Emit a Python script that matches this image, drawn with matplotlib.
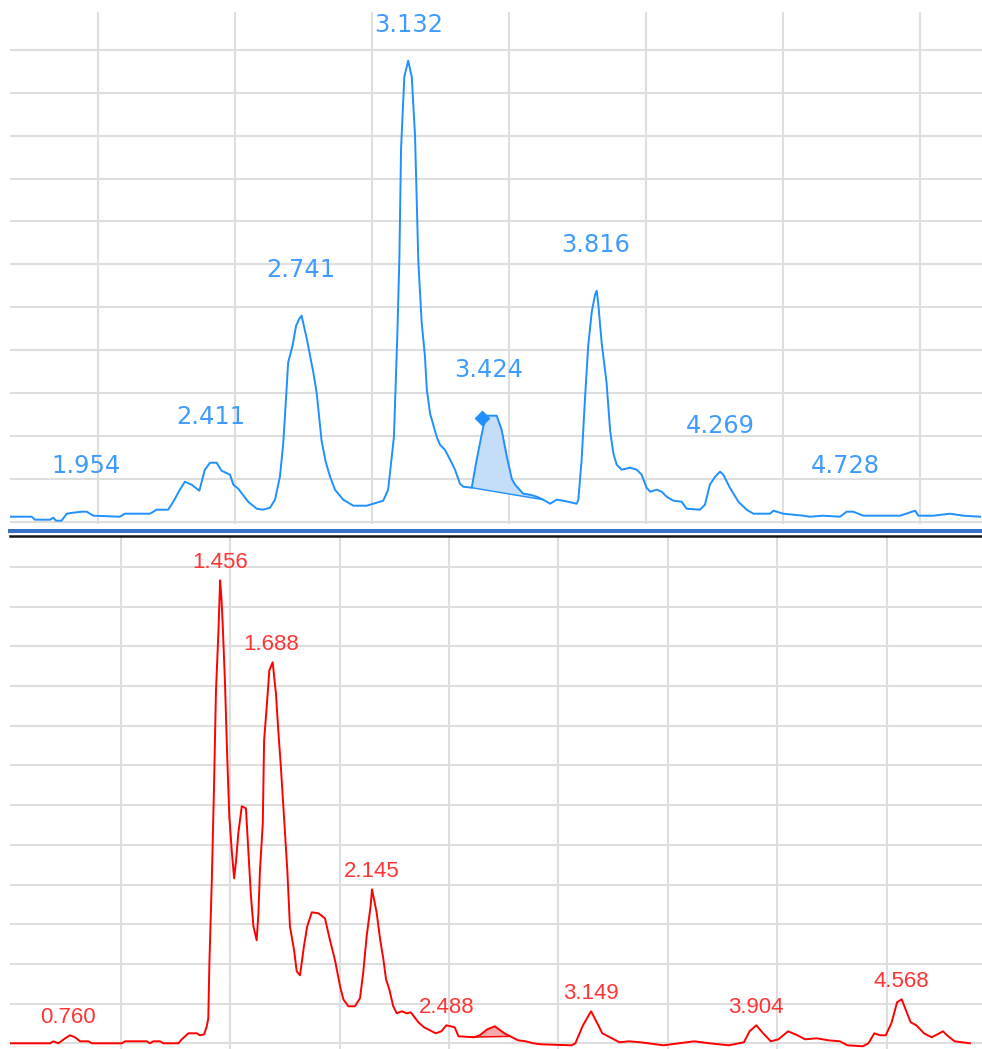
import numpy as np
from matplotlib import pyplot as plt
from matplotlib.lines import Line2D

# upper channel (blue): retention time [min], signal [counts]
top_time = [1.678, 1.757, 1.769, 1.824, 1.836, 1.846, 1.866, 1.885, 1.909, 1.939,
            1.958, 1.982, 2.079, 2.097, 2.152, 2.189, 2.213, 2.255, 2.274, 2.298,
            2.316, 2.341, 2.369, 2.389, 2.408, 2.432, 2.450, 2.481, 2.493, 2.511,
            2.547, 2.578, 2.602, 2.627, 2.645, 2.663, 2.675, 2.685, 2.693, 2.709,
            2.722, 2.734, 2.742, 2.761, 2.785, 2.797, 2.815, 2.830, 2.846, 2.864,
            2.894, 2.931, 2.980, 3.040, 3.058, 3.071, 3.079, 3.091, 3.099, 3.105,
            3.117, 3.131, 3.144, 3.156, 3.168, 3.180, 3.192, 3.199, 3.211, 3.235,
            3.247, 3.265, 3.284, 3.302, 3.320, 3.332, 3.363, 3.381, 3.405, 3.418,
            3.454, 3.472, 3.491, 3.509, 3.521, 3.551, 3.576, 3.600, 3.624, 3.649,
            3.673, 3.697, 3.746, 3.752, 3.764, 3.776, 3.788, 3.801, 3.813, 3.819,
            3.825, 3.837, 3.855, 3.868, 3.880, 3.892, 3.910, 3.941, 3.965, 3.983,
            4.001, 4.014, 4.038, 4.056, 4.074, 4.099, 4.129, 4.147, 4.196, 4.214,
            4.232, 4.251, 4.269, 4.281, 4.305, 4.336, 4.366, 4.391, 4.451, 4.464,
            4.500, 4.573, 4.597, 4.646, 4.707, 4.731, 4.755, 4.792, 4.926, 4.981,
            4.993, 5.047, 5.108, 5.157, 5.218]
top_signal = [5, 5, 2, 2, 4, 1, 1, 8, 9, 10,
              10, 6, 5, 8, 8, 8, 12, 12, 20, 32,
              40, 37, 31, 52, 59, 59, 51, 47, 37, 33,
              20, 13, 12, 14, 22, 45, 78, 122, 159, 176,
              196, 203, 206, 183, 149, 129, 81, 60, 45, 32,
              22, 16, 16, 21, 32, 65, 85, 183, 264, 373,
              445, 461, 445, 386, 261, 200, 166, 132, 108, 85,
              77, 72, 62, 52, 38, 35, 34, 62, 95, 106,
              106, 92, 65, 43, 37, 28, 27, 25, 22, 18,
              22, 21, 18, 22, 62, 122, 176, 210, 227, 231,
              217, 179, 139, 91, 68, 57, 52, 54, 52, 47,
              34, 30, 32, 30, 25, 21, 20, 13, 12, 17,
              37, 45, 50, 47, 34, 20, 12, 8, 8, 11,
              8, 6, 5, 6, 5, 10, 10, 6, 6, 11,
              6, 6, 8, 6, 5]
top_peaks = ['1.954', '2.411', '2.741', '3.132', '3.424', '3.816', '4.269', '4.728']
top_area = (3.363, 3.624)      # integrated peak (shaded)
top_apex = (3.400, 104)        # selected peak marker

# lower channel (red)
bot_time = [0.494, 0.677, 0.692, 0.715, 0.746, 0.768, 0.791, 0.814, 0.852, 0.868,
            1.005, 1.020, 1.119, 1.134, 1.149, 1.180, 1.195, 1.263, 1.279, 1.309,
            1.347, 1.362, 1.381, 1.393, 1.400, 1.405, 1.416, 1.426, 1.435, 1.446,
            1.454, 1.460, 1.466, 1.476, 1.487, 1.496, 1.507, 1.518, 1.527, 1.537,
            1.553, 1.572, 1.583, 1.594, 1.606, 1.621, 1.629, 1.636, 1.649, 1.655,
            1.667, 1.679, 1.694, 1.709, 1.720, 1.732, 1.751, 1.761, 1.773, 1.792,
            1.804, 1.819, 1.837, 1.852, 1.873, 1.903, 1.933, 1.956, 1.979, 2.002,
            2.017, 2.040, 2.070, 2.093, 2.108, 2.124, 2.142, 2.148, 2.169, 2.185,
            2.200, 2.212, 2.227, 2.245, 2.261, 2.284, 2.307, 2.325, 2.360, 2.386,
            2.439, 2.465, 2.488, 2.526, 2.543, 2.614, 2.640, 2.675, 2.709, 2.753,
            2.788, 2.815, 2.850, 2.885, 2.920, 3.060, 3.077, 3.112, 3.138, 3.149,
            3.182, 3.200, 3.235, 3.279, 3.322, 3.375, 3.480, 3.550, 3.620, 3.690,
            3.778, 3.847, 3.873, 3.904, 3.935, 3.970, 4.005, 4.049, 4.092, 4.127,
            4.180, 4.233, 4.285, 4.320, 4.390, 4.416, 4.443, 4.469, 4.495, 4.521,
            4.547, 4.568, 4.591, 4.609, 4.635, 4.670, 4.705, 4.757, 4.775, 4.810,
            4.880]
bot_signal = [0, 0, 2, 0, 5, 8, 6, 2, 2, 0,
              0, 2, 2, 0, 2, 2, 0, 0, 4, 10,
              10, 8, 9, 17, 25, 80, 163, 255, 352, 410,
              463, 445, 418, 362, 283, 227, 193, 165, 183, 210,
              237, 235, 193, 150, 117, 103, 130, 173, 220, 303,
              337, 373, 381, 350, 312, 275, 207, 173, 117, 93,
              72, 68, 97, 117, 131, 130, 125, 103, 83, 57,
              44, 37, 37, 45, 71, 108, 138, 154, 131, 104,
              84, 64, 54, 37, 30, 32, 30, 31, 21, 16,
              10, 12, 18, 16, 7, 6, 8, 14, 17, 10,
              6, 3, 2, 0, -1, -2, 0, 18, 28, 32,
              18, 10, 6, 1, 2, 1, -2, 0, 2, 0,
              -2, 1, 12, 18, 10, 2, 4, 12, 8, 4,
              5, 3, 2, -2, -3, 0, 10, 8, 8, 20,
              41, 44, 31, 21, 18, 10, 6, 12, 8, 2,
              0]
bot_peaks = ['0.760', '1.456', '1.688', '2.145', '2.488', '3.149', '3.904', '4.568']
bot_area = (2.600, 2.780)

W, H = 982, 1049
fig = plt.figure(figsize=(W / 100, H / 100), dpi=100)

# axes boxes in pixels (left, top, right, bottom)
ax_top = fig.add_axes([10 / W, 1 - 524 / H, 972 / W, 512 / H])
ax_bot = fig.add_axes([10 / W, 0, 972 / W, 537 / H - 25 / H])


def draw_panel(ax, t, s, peaks, area, color, fill, txt_color, font, size, off, cap):
    t = np.array(t)
    s = np.array(s)
    # shaded integration area with straight baseline
    tt = np.linspace(area[0], area[1], 60)
    yy = np.interp(tt, t, s)
    base = np.linspace(yy[0], yy[-1], len(tt))
    ax.fill_between(tt, base, yy, color=fill, lw=0, zorder=2)
    ax.plot([tt[0], tt[-1]], [base[0], base[-1]], color=color, lw=1.0, zorder=3)
    ax.plot(t, s, color=color, lw=1.4, zorder=3)
    for p in peaks:
        tp = float(p)
        near = (t > tp - 0.02) & (t < tp + 0.02)
        y = min(s[near].max() + off, cap)
        ax.text(tp, y, p, ha='center', va='center', color=txt_color,
                family=font, fontsize=size, zorder=4)
    ax.grid(True, color='#dedede', linewidth=1.5, zorder=0)
    ax.set_axisbelow(True)
    ax.tick_params(length=0, labelbottom=False, labelleft=False)
    for sp in ax.spines.values():
        sp.set_visible(False)


draw_panel(ax_top, top_time, top_signal, top_peaks, top_area,
           '#1e90ff', '#c4defa', '#3f9cff', 'DejaVu Sans', 17.4, 46, 497)
ax_top.plot(*top_apex, marker='D', ms=7, color='#1e90ff', zorder=4)
ax_top.set_xlim(1.678, 5.225)
ax_top.set_ylim(-2.3, 509.7)
ax_top.set_xticks(np.arange(2.0, 5.01, 0.5))
ax_top.set_yticks(np.arange(0, 12) * 42.9)

draw_panel(ax_bot, bot_time, bot_signal, bot_peaks, bot_area,
           '#ff0000', '#f6a9a9', '#ff3434', 'Liberation Sans', 16, 18, 490)
ax_bot.set_xlim(0.494, 4.935)
ax_bot.set_ylim(-5.7, 506.3)
ax_bot.set_xticks(np.arange(1.0, 4.51, 0.5))
ax_bot.set_yticks(np.arange(0, 13) * 39.7)

# double separator between the two channels
fig.add_artist(Line2D([10 / W, 1], [1 - 531.3 / H] * 2, color='#3a70c8', lw=2.9))
fig.add_artist(Line2D([10 / W, 1], [1 - 536 / H] * 2, color='#151515', lw=1.8))

fig.savefig('out.png', dpi=100)
